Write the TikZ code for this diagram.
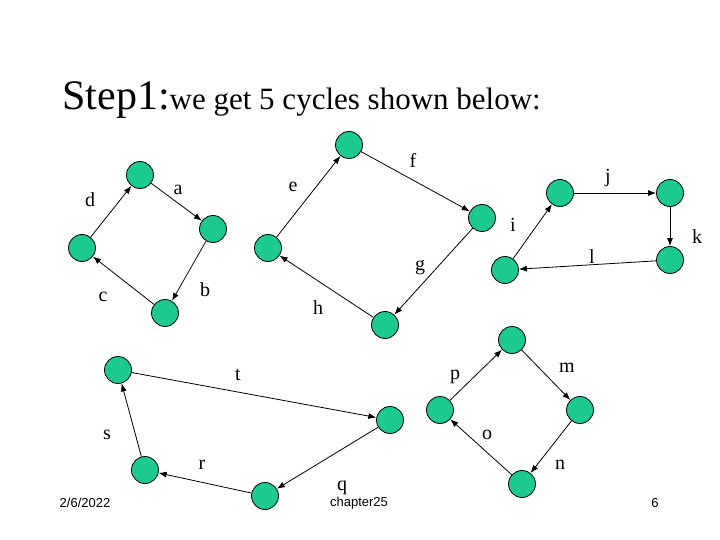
\documentclass[tikz,border=0pt]{standalone}
\usepackage{fontspec}
\setmainfont{Liberation Serif}
\newfontfamily\footfont{Liberation Sans}
\usetikzlibrary{arrows.meta}
\definecolor{vgreen}{HTML}{1CC98F}
\begin{document}
\begin{tikzpicture}[x=1pt,y=-1pt,
  vert/.style={circle, draw, fill=vgreen, minimum size=27pt, inner sep=0pt},
  lab/.style={font=\fontsize{20}{22}\selectfont},
  every path/.style={line width=0.8pt},
  arc/.style={-{Latex[length=8pt,width=6pt]}}]
  \useasboundingbox (0,0) rectangle (720,540);
  \node[anchor=base west, inner sep=0pt] (title) at (62,110) {\fontsize{42}{44}\selectfont Step1:\fontsize{31}{33}\selectfont we get 5 cycles shown below:};

  % cycle 1
  \node[vert] (a1) at (140,175) {};
  \node[vert] (a2) at (213,229) {};
  \node[vert] (a3) at (165,313) {};
  \node[vert] (a4) at (82,248) {};
  \draw[arc] (a1) -- (a2);
  \draw[arc] (a2) -- (a3);
  \draw[arc] (a3) -- (a4);
  \draw[arc] (a4) -- (a1);
  \node[lab] (la) at (178,190) {a};
  \node[lab] (lb) at (205,290) {b};
  \node[lab] (lc) at (103,297) {c};
  \node[lab] (ld) at (90,200) {d};

  % cycle 2
  \node[vert] (b1) at (349,145) {};
  \node[vert] (b2) at (482,218) {};
  \node[vert] (b3) at (385,325) {};
  \node[vert] (b4) at (268,248) {};
  \draw[arc] (b4) -- (b1);
  \draw[arc] (b1) -- (b2);
  \draw[arc] (b2) -- (b3);
  \draw[arc] (b3) -- (b4);
  \node[lab] (le) at (293,187) {e};
  \node[lab] (lf) at (413,160) {f};
  \node[lab] (lg) at (420,268) {g};
  \node[lab] (lh) at (318,308) {h};
  \node[lab] (li) at (513,225) {i};

  % cycle 3
  \node[vert] (c1) at (505,270) {};
  \node[vert] (c2) at (560,193) {};
  \node[vert] (c3) at (670,193) {};
  \node[vert] (c4) at (670,260) {};
  \draw[arc] (c1) -- (c2);
  \draw[arc] (c2) -- (c3);
  \draw[arc] (c3) -- (c4);
  \draw[arc] (c4) -- (c1);
  \node[lab] (lj) at (608,178) {j};
  \node[lab] (lk) at (697,237) {k};
  \node[lab] (ll) at (592,257) {l};

  % cycle 4
  \node[vert] (d1) at (118,370) {};
  \node[vert] (d2) at (390,420) {};
  \node[vert] (d3) at (265,496) {};
  \node[vert] (d4) at (145,470) {};
  \draw[arc] (d1) -- (d2);
  \draw[arc] (d2) -- (d3);
  \draw[arc] (d3) -- (d4);
  \draw[arc] (d4) -- (d1);
  \node[lab] (lt) at (238,375) {t};
  \node[lab] (ls) at (107,435) {s};
  \node[lab] (lr) at (202,465) {r};
  \node[lab] (lq) at (342,488) {q};

  % cycle 5
  \node[vert] (e1) at (440,410) {};
  \node[vert] (e2) at (512,340) {};
  \node[vert] (e3) at (580,410) {};
  \node[vert] (e4) at (522,484) {};
  \draw[arc] (e1) -- (e2);
  \draw[arc] (e2) -- (e3);
  \draw[arc] (e3) -- (e4);
  \draw[arc] (e4) -- (e1);
  \node[lab] (lp) at (455,377) {p};
  \node[lab] (lm) at (567,368) {m};
  \node[lab] (lo) at (487,435) {o};
  \node[lab] (ln) at (560,465) {n};

  % footer
  \node[font=\footfont\fontsize{13}{14}\selectfont] (date) at (85,503) {2/6/2022};
  \node[font=\footfont\fontsize{13}{14}\selectfont] (chap) at (359,503) {chapter25};
  \node[font=\footfont\fontsize{13}{14}\selectfont] (page) at (655,503) {6};
\end{tikzpicture}
\end{document}
